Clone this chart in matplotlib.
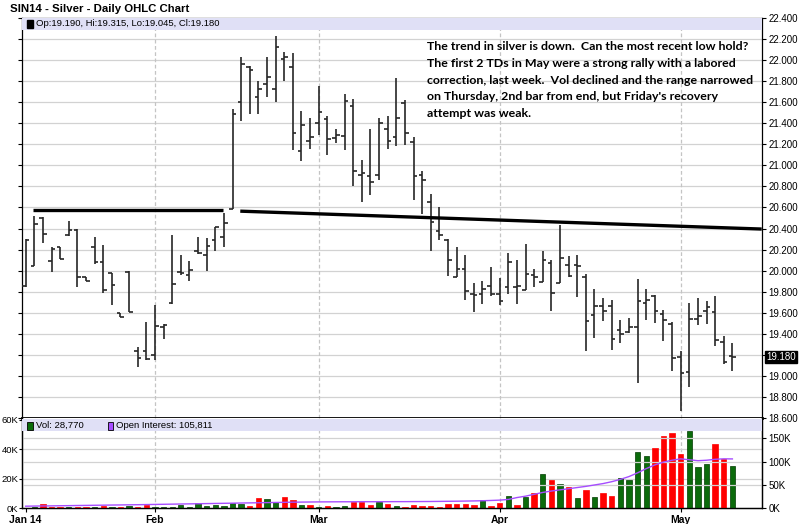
import numpy as np
import matplotlib
matplotlib.use('Agg')
import matplotlib.pyplot as plt
from matplotlib.patches import Rectangle
from matplotlib.transforms import blended_transform_factory

plt.rcParams['font.family'] = ['Liberation Sans', 'DejaVu Sans']

# daily OHLC, SIN14 silver, Jan 14 -> May 9 2014
opens = [19.85, 20.04, 20.50, 20.09, 20.22, 20.34, 20.39, 19.94, 20.22, 20.08,
         19.98, 19.60, 19.99, 19.24, 19.24, 19.20, 19.46, 19.69, 19.99, 19.96,
         20.19, 20.15, 20.29, 20.32, 20.59, 21.60, 21.93, 21.65, 21.77, 21.73,
         22.01, 21.93, 21.14, 21.23, 21.40, 21.44, 21.26, 21.28, 21.56, 20.91,
         20.90, 20.91, 21.35, 21.27, 21.59, 21.22, 20.91, 20.65, 20.38, 20.29,
         19.94, 20.02, 19.78, 19.78, 19.85, 19.78, 19.84, 19.84, 19.82, 19.96,
         19.89, 20.07, 19.88, 20.05, 20.05, 19.94, 19.58, 19.66, 19.66, 19.44,
         19.42, 19.46, 19.69, 19.76, 19.59, 19.49, 19.18, 19.04, 19.54, 19.62,
         19.61, 19.32, 19.19]
highs = [20.30, 20.52, 20.51, 20.22, 20.22, 20.47, 20.40, 19.94, 20.32, 20.24,
         19.98, 19.60, 20.00, 19.27, 19.51, 19.67, 19.49, 20.34, 20.15, 20.09,
         20.32, 20.31, 20.41, 20.55, 21.54, 22.03, 21.94, 21.80, 22.03, 22.23,
         22.08, 22.07, 21.52, 21.45, 21.75, 21.47, 21.35, 21.68, 21.63, 21.05,
         21.35, 21.45, 21.47, 21.83, 21.62, 21.27, 20.95, 20.73, 20.60, 20.30,
         20.22, 20.15, 19.88, 19.90, 20.03, 19.93, 20.17, 20.10, 20.25, 20.02,
         20.19, 20.10, 20.43, 20.14, 20.15, 19.97, 19.83, 19.74, 19.72, 19.53,
         19.55, 19.92, 19.83, 19.77, 19.63, 19.51, 19.24, 19.69, 19.74, 19.71,
         19.76, 19.38, 19.315]
lows = [19.84, 20.04, 20.26, 19.99, 20.11, 20.33, 19.84, 19.90, 20.06, 19.79,
        19.67, 19.56, 19.61, 19.08, 19.15, 19.15, 19.35, 19.68, 19.96, 19.90,
        20.16, 20.00, 20.19, 20.22, 20.59, 21.42, 21.49, 21.49, 21.65, 21.60,
        21.80, 21.15, 21.04, 21.16, 21.29, 21.10, 21.21, 21.15, 20.80, 20.65,
        20.72, 20.86, 21.16, 21.18, 21.19, 20.67, 20.54, 20.19, 20.29, 19.95,
        19.94, 19.72, 19.61, 19.68, 19.76, 19.67, 19.78, 19.68, 19.82, 19.84,
        19.89, 19.62, 19.88, 19.94, 19.75, 19.24, 19.36, 19.52, 19.25, 19.31,
        19.41, 18.93, 19.53, 19.50, 19.33, 19.05, 18.67, 18.89, 19.48, 19.49,
        19.28, 19.11, 19.045]
closes = [20.29, 20.44, 20.35, 20.21, 20.11, 20.39, 19.94, 19.90, 20.08, 19.82,
          19.86, 19.56, 19.61, 19.17, 19.16, 19.47, 19.48, 19.87, 19.98, 20.01,
          20.17, 20.23, 20.41, 20.45, 21.49, 21.96, 21.91, 21.73, 21.84, 22.12,
          22.03, 21.31, 21.38, 21.27, 21.51, 21.25, 21.29, 21.61, 20.95, 20.93,
          20.84, 21.40, 21.23, 21.45, 21.31, 20.90, 20.86, 20.46, 20.34, 20.10,
          20.02, 19.81, 19.77, 19.83, 19.78, 19.71, 20.08, 19.85, 19.97, 19.94,
          20.10, 19.79, 20.12, 19.95, 20.04, 19.52, 19.66, 19.62, 19.35, 19.40,
          19.46, 19.71, 19.72, 19.62, 19.53, 19.17, 19.03, 19.54, 19.57, 19.65,
          19.34, 19.13, 19.18]

# volume (thousands, left scale) and open interest (thousands, right scale)
volume = [0.5, 1.1, 2.7, 1.1, 0.9, 0.9, 0.9, 0.9, 0.9, 1.6,
          0.9, 0.9, 1.6, 0.9, 2.0, 0.9, 0.9, 0.9, 2.2, 0.9,
          3.3, 1.6, 2.2, 1.6, 3.8, 2.7, 1.8, 7.3, 6.2, 4.2,
          7.8, 5.4, 2.2, 2.4, 0.9, 1.4, 0.9, 1.6, 4.0, 4.0,
          2.0, 4.0, 2.7, 1.6, 0.9, 2.0, 1.6, 1.6, 0.9, 3.1,
          3.1, 3.1, 2.2, 5.6, 1.6, 3.8, 8.5, 2.0, 7.6, 10.5,
          23.0, 19.4, 16.3, 14.1, 6.7, 12.3, 7.4, 10.1, 8.5, 20.6,
          19.2, 38.4, 35.5, 40.9, 49.2, 51.0, 36.9, 52.1, 27.7, 30.2,
          43.8, 33.1, 28.77]
open_interest = [4.5, 4.8, 5.0, 5.2, 5.5, 5.7, 6.0, 6.2, 6.5, 6.7,
                 7.0, 7.2, 7.5, 7.7, 8.0, 8.3, 8.6, 8.9, 9.2, 9.5,
                 9.8, 10.1, 10.4, 10.7, 11.0, 11.3, 11.6, 11.9, 12.2, 12.5,
                 12.8, 13.1, 13.3, 13.5, 13.7, 13.8, 13.9, 14.0, 14.0, 14.1,
                 14.1, 14.2, 14.2, 14.3, 14.3, 14.4, 14.5, 14.6, 14.8, 15.0,
                 15.2, 15.5, 15.8, 16.2, 16.8, 17.5, 19.0, 23.0, 26.0, 30.0,
                 34.0, 37.0, 39.5, 42.0, 44.5, 47.0, 50.0, 53.0, 57.0, 62.0,
                 68.0, 76.0, 85.0, 93.0, 99.0, 103.0, 106.0, 104.0, 102.0, 103.0,
                 105.0, 106.0, 105.8]

# month labels and the bar index they fall on
month_labels = ['Jan 14', 'Feb', 'Mar', 'Apr', 'May']
month_bars = [0, 15, 34, 55, 76]

# hand drawn trend lines (bar index, price)
flat_line_x = [0.8, 22.9]
flat_line_y = [20.58, 20.58]
down_line_x = [24.9, 85.4]
down_line_y = [20.565, 20.395]

note = ("The trend in silver is down.  Can the most recent low hold?\n"
        "The first 2 TDs in May were a strong rally with a labored\n"
        "correction, last week.  Vol declined and the range narrowed\n"
        "on Thursday, 2nd bar from end, but Friday's recovery\n"
        "attempt was weak.")


def main():
    W, H = 800.0, 524.0
    x0, x1 = 21.7, 761.7
    fig = plt.figure(figsize=(8, 5.24), dpi=100)
    fig.patch.set_facecolor('white')
    ax = fig.add_axes([x0 / W, (H - 418) / H, (x1 - x0) / W, 400 / H])
    axv = fig.add_axes([x0 / W, (H - 508.3) / H, (x1 - x0) / W, 90.3 / H])
    axo = axv.twinx()

    x = np.arange(len(closes))
    o = np.array(opens); h = np.array(highs); l = np.array(lows); c = np.array(closes)
    xlim = (-0.46, 85.4)

    # price panel
    ax.set_xlim(*xlim)
    ax.set_ylim(18.6, 22.4)
    yt = np.round(np.arange(18.6, 22.41, 0.2), 1)
    for v in yt[1:]:
        ax.axhline(v, color='#d2d2d2', lw=0.9, zorder=0)
    for b in month_bars[1:]:
        ax.axvline(b, color='#c4c4c4', lw=0.9, ls=(0, (3, 2)), zorder=0)
        axv.axvline(b, color='#c4c4c4', lw=0.9, ls=(0, (3, 2)), zorder=0)

    barc = '#262626'
    ax.vlines(x, l, h, color=barc, lw=1.2, zorder=3)
    ax.hlines(o, x - 0.42, x, color=barc, lw=1.2, zorder=3)
    ax.hlines(c, x, x + 0.42, color=barc, lw=1.2, zorder=3)

    ax.plot(flat_line_x, flat_line_y, color='black', lw=2.4, solid_capstyle='butt', zorder=4)
    ax.plot(down_line_x, down_line_y, color='black', lw=2.4, solid_capstyle='butt', zorder=4)

    ax.yaxis.tick_right()
    ax.set_yticks(yt)
    # the last-price box hides the 19.200 label
    ax.set_yticklabels(['' if abs(v - 19.2) < 1e-6 else '%.3f' % v for v in yt])
    ax.tick_params(axis='y', which='both', direction='out', length=3, width=0.8,
                   labelsize=7, pad=2, left=True, labelleft=False)
    ax.tick_params(axis='x', bottom=False, labelbottom=False)
    for s in ax.spines.values():
        s.set_color('black')
        s.set_linewidth(0.9)
    ax.spines['bottom'].set_linewidth(2.0)

    # header band in price panel
    ax.add_patch(Rectangle((0, 0.97), 1, 0.03, transform=ax.transAxes,
                           facecolor='#e0e0f6', edgecolor='none', zorder=5))
    ax.add_patch(Rectangle((0.0075, 0.9745), 0.0075, 0.021, transform=ax.transAxes,
                           facecolor='black', edgecolor='black', zorder=6))
    ax.text(0.019, 0.985, 'Op:%.3f, Hi:%.3f, Lo:%.3f, Cl:%.3f' % (opens[-1], highs[-1], lows[-1], closes[-1]),
            transform=ax.transAxes, fontsize=6.8, va='center', ha='left', zorder=6)

    # last price box on right scale
    tr = blended_transform_factory(ax.transAxes, ax.transData)
    ax.text(1.006, closes[-1], '%.3f' % closes[-1], transform=tr, fontsize=7, color='white',
            va='center', ha='left', zorder=7, clip_on=False,
            bbox=dict(boxstyle='square,pad=0.12', facecolor='black', edgecolor='black'))

    ax.text(0.548, 0.942, note, transform=ax.transAxes, fontsize=8.9, fontweight='bold',
            family=['Lato', 'DejaVu Sans'], va='top', ha='left', linespacing=1.64, zorder=6)

    # volume panel
    up = np.r_[True, c[1:] > c[:-1]]
    vcol = np.where(up, '#0b6b0b', '#ff0000')
    vedge = np.where(up, '#003a00', '#ff0000')
    axv.set_xlim(*xlim)
    axv.set_ylim(0, 61.2)
    axo.set_ylim(0, 193.5)
    for v in [20, 40]:
        axv.axhline(v, color='#d2d2d2', lw=0.9, zorder=0)
    for v in [50, 100, 150]:
        axo.axhline(v, color='#d2d2d2', lw=0.9, zorder=0)
    axv.bar(x, volume, width=0.62, color=vcol, edgecolor=vedge, linewidth=0.5, zorder=3)
    axo.plot(x, open_interest, color='#a64dff', lw=1.0, zorder=4)

    axv.set_yticks([0, 20, 40, 60])
    axv.set_yticklabels(['0K', '20K', '40K', '60K'])
    axo.set_yticks([0, 50, 100, 150])
    axo.set_yticklabels(['0K', '50K', '100K', '150K'])
    axv.tick_params(axis='y', direction='out', length=2, width=0.8, labelsize=6.8, pad=0.5)
    axo.tick_params(axis='y', direction='out', length=3, width=0.8, labelsize=7, pad=2)
    axv.set_xticks(month_bars)
    axv.set_xticklabels(month_labels, fontweight='bold', fontsize=7.5)
    axv.tick_params(axis='x', direction='out', length=3, width=0.8, pad=1.5)
    for a in (axv, axo):
        for s in a.spines.values():
            s.set_color('black')
            s.set_linewidth(0.9)
        a.spines['top'].set_visible(False)

    # header band in volume panel
    axo.add_patch(Rectangle((0, 0.855), 1, 0.13, transform=axo.transAxes,
                            facecolor='#e0e0f6', edgecolor='none', zorder=5))
    axo.add_patch(Rectangle((0.0075, 0.87), 0.0075, 0.09, transform=axo.transAxes,
                            facecolor='#0b6b0b', edgecolor='black', lw=0.6, zorder=6))
    axo.text(0.019, 0.915, 'Vol: 28,770', transform=axo.transAxes, fontsize=6.8,
             va='center', ha='left', zorder=6)
    axo.add_patch(Rectangle((0.116, 0.87), 0.0075, 0.09, transform=axo.transAxes,
                            facecolor='#a64dff', edgecolor='black', lw=0.6, zorder=6))
    axo.text(0.1275, 0.915, 'Open Interest: 105,811', transform=axo.transAxes, fontsize=6.8,
             va='center', ha='left', zorder=6)

    fig.text(10 / W, 1 - 9 / H, 'SIN14 - Silver - Daily OHLC Chart', fontsize=8.2,
             fontweight='bold', va='center', ha='left')

    fig.savefig('out.png', dpi=100)


if __name__ == '__main__':
    main()
